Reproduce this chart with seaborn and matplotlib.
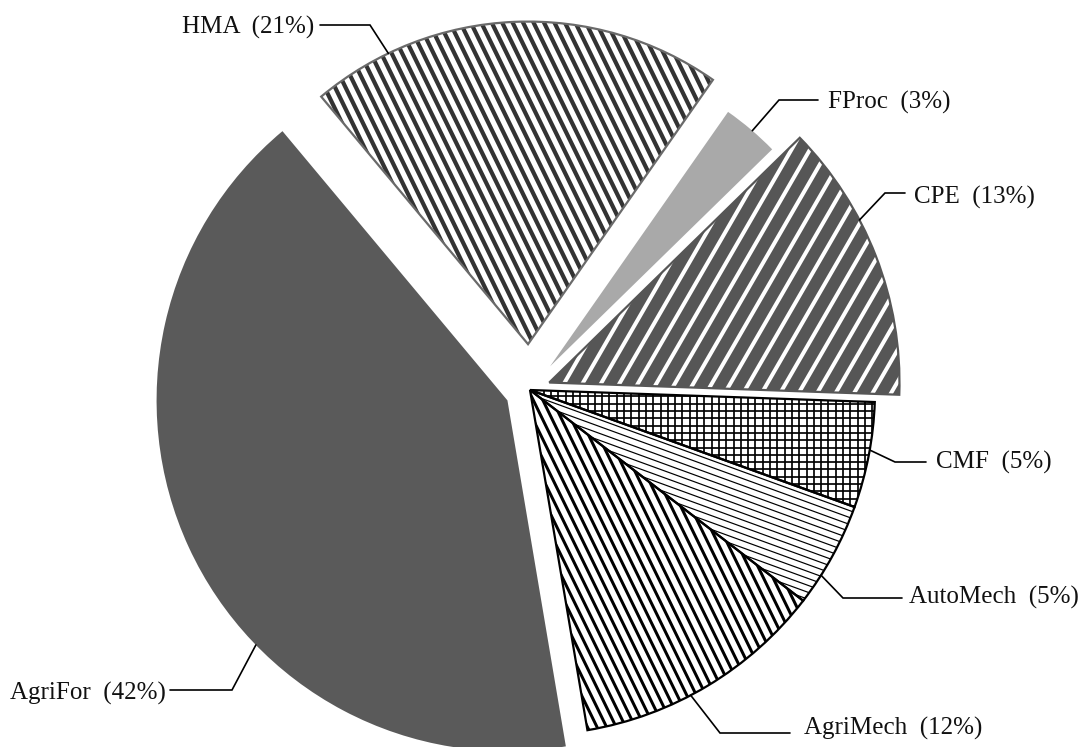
import numpy as np
import matplotlib
matplotlib.use("Agg")
import matplotlib.pyplot as plt
import matplotlib.patches as mpatches
from matplotlib.collections import LineCollection
import seaborn as sns

# Share of each sector (%), listed clockwise from just below 3 o'clock
sectors = ["CMF", "AutoMech", "AgriMech", "AgriFor", "HMA", "FProc", "CPE"]
shares = [5, 5, 12, 42, 21, 3, 13]

# Per-sector styling (explode given as a fraction of the radius)
explode = [0.0, 0.0, 0.0, 0.072, 0.133, 0.09, 0.06]
radius_scale = [1.0, 1.0, 1.0, 1.017, 0.935, 0.90, 1.015]
face_colors = ["white", "white", "white", "#5a5a5a", "white", "#a9a9a9", "#565656"]
edge_colors = ["black", "black", "black", "none", "#6a6a6a", "none", "#565656"]
# (angle in degrees, spacing px, colour, width px) for each stripe layer
stripes = [
    [(0, 7.3, "black", 1.7), (90, 7.3, "black", 1.7)],
    [(-20, 6.5, "black", 1.2)],
    [(-64, 8.6, "black", 3.0)],
    [],
    [(-64, 9.4, "#333333", 4.2)],
    [],
    [(60, 16.0, "white", 4.0)],
]

# Label placement: fraction along the rim, elbow point, line end x, text anchor
label_layout = {
    "CMF": (0.55, (895, 285), 926, (936, 285), "left"),
    "AutoMech": (0.29, (843, 149), 902, (909, 150), "left"),
    "AgriMech": (0.425, (720, 14), 790, (804, 19), "left"),
    "AgriFor": (0.63, (232, 57), 170, (166, 54), "right"),
    "HMA": (0.81, (370, 722), 320, (314, 720), "right"),
    "FProc": (0.47, (779, 647), 818, (828, 645), "left"),
    "CPE": (0.64, (885, 554), 905, (914, 550), "left"),
}

W, H = 1082, 747
R = 345
CENTER = (530, 357)

sns.set_theme(style="white")
plt.rcParams["font.family"] = ["Liberation Serif", "DejaVu Serif"]

fig = plt.figure(figsize=(W / 100, H / 100), dpi=100)
ax = fig.add_axes([0, 0, 1, 1])

wedges, _ = ax.pie(
    shares,
    explode=[e * R for e in explode],
    startangle=-2,
    counterclock=False,
    radius=R,
    center=CENTER,
    colors=face_colors,
    wedgeprops=dict(linewidth=0, antialiased=True),
)


def add_stripes(ax, wedge, angle, spacing, color, width_px):
    cx, cy = wedge.center
    r = wedge.r
    a = np.deg2rad(angle)
    d = np.array([np.cos(a), np.sin(a)])
    n = np.array([-d[1], d[0]])
    offs = np.arange(-1.5 * r, 1.5 * r, spacing)
    segs = [
        [(cx + o * n[0] - 2 * r * d[0], cy + o * n[1] - 2 * r * d[1]),
         (cx + o * n[0] + 2 * r * d[0], cy + o * n[1] + 2 * r * d[1])]
        for o in offs
    ]
    lc = LineCollection(segs, colors=color, linewidths=width_px * 0.72,
                        capstyle="butt", zorder=2)
    ax.add_collection(lc)
    lc.set_clip_path(wedge)


for w, scale, ec, layers in zip(wedges, radius_scale, edge_colors, stripes):
    w.set_radius(R * scale)
    w.set_zorder(1)
    for ang, sp, col, lw in layers:
        add_stripes(ax, w, ang, sp, col, lw)
    if ec != "none":
        ax.add_patch(mpatches.Wedge(w.center, w.r, w.theta1, w.theta2,
                                    fill=False, edgecolor=ec, linewidth=1.6,
                                    zorder=3))

# Labels with elbow leader lines
for name, share, w in zip(sectors, shares, wedges):
    frac, elbow, end_x, text_xy, ha = label_layout[name]
    phi = np.deg2rad(w.theta1 + frac * (w.theta2 - w.theta1))
    rim = (w.center[0] + w.r * np.cos(phi), w.center[1] + w.r * np.sin(phi))
    ax.plot([rim[0], elbow[0], end_x], [rim[1], elbow[1], elbow[1]],
            color="black", linewidth=1.2, solid_joinstyle="miter", zorder=4)
    ax.text(text_xy[0], text_xy[1], f"{name}  ({share}%)", ha=ha,
            va="center", fontsize=18, color="#111111", zorder=5)

ax.set_xlim(0, W)
ax.set_ylim(0, H)
ax.set_aspect("equal")
ax.set_axis_off()

fig.savefig("out.png", dpi=100, facecolor="white")
